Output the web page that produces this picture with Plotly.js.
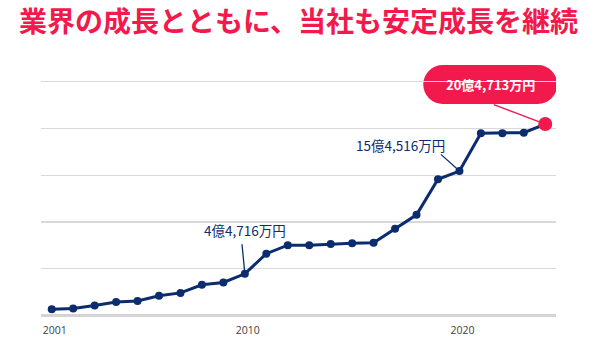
<!DOCTYPE html>
<html><head><meta charset="utf-8">
<script src="https://cdn.plot.ly/plotly-3.0.1.min.js"></script>
<style>html,body{margin:0;padding:0;background:#fff}#chart{width:596px;height:355px}</style>
</head><body><div id="chart"></div>
<script>
const years = [2001,2002,2003,2004,2005,2006,2007,2008,2009,2010,2011,2012,2013,2014,2015,2016,2017,2018,2019,2020,2021,2022,2023,2024];
const sales = [0.68,0.76,1.08,1.46,1.57,2.13,2.43,3.30,3.55,4.4716,6.62,7.53,7.53,7.65,7.74,7.78,9.29,10.77,14.57,15.4516,19.49,19.49,19.55,20.4713];
const tickYears = [2001,2010,2020];
const tickText = ['2001','2010','2020'];
const gridVals = [5,10,15,20,25];
const labelYears = [2010,2020];
const labelTexts = ['4億4,716万円','15億4,516万円'];
const latestText = '20億4,713万円';
const titleText = '業界の成長とともに、当社も安定成長を継続';

const NAVY = '#0b2c6d', RED = '#f2194c';
const last = years.length - 1;
const lastX = years[last], lastY = sales[last];
const idx = y => years.indexOf(y);

const trace = {
  x: years, y: sales, type: 'scatter', mode: 'lines+markers', opacity: 1,
  line: {color: NAVY, width: 3},
  marker: {color: years.map((_, i) => i === last ? RED : NAVY), size: years.map((_, i) => i === last ? 14 : 8),
    opacity: 1, line: {width: 0}},
  hoverinfo: 'skip'
};

const labelShift = [[0, 44], [-59, 26]];
const arrowOff = [[-3, -31], [-20, -18]];
const annotations = [];
labelYears.forEach((yr, k) => {
  annotations.push({x: yr, y: sales[idx(yr)], xref: 'x', yref: 'y', text: labelTexts[k], showarrow: false,
    xanchor: 'center', yanchor: 'middle', xshift: labelShift[k][0], yshift: labelShift[k][1],
    font: {family: 'Noto Sans CJK JP', size: 13.5, color: NAVY}});
  annotations.push({x: yr, y: sales[idx(yr)], xref: 'x', yref: 'y', text: '', showarrow: true, arrowhead: 0,
    arrowwidth: 1.3, arrowcolor: NAVY, ax: arrowOff[k][0], ay: arrowOff[k][1], standoff: 0});
});
annotations.push({x: lastX, y: lastY, xref: 'x', yref: 'y', text: '', showarrow: true, arrowhead: 0,
  arrowwidth: 1.4, arrowcolor: RED, ax: -53, ay: -20, standoff: 0});
annotations.push({x: lastX, y: lastY, xref: 'x', yref: 'y', text: '<b>' + latestText + '</b>', showarrow: false,
  xanchor: 'center', yanchor: 'middle', xshift: -55, yshift: 40,
  font: {family: 'Noto Sans CJK JP', size: 13, color: '#ffffff'}});

const pill = (type, x0, x1) => ({type: type, xref: 'x', yref: 'y', xsizemode: 'pixel', ysizemode: 'pixel',
  xanchor: lastX, yanchor: lastY, x0: x0, x1: x1, y0: 20, y1: 59, fillcolor: RED, opacity: 1, line: {width: 0}, layer: 'below'});
const shapes = [pill('circle', -122, -83), pill('rect', -102.5, -7.5), pill('circle', -27, 12)];

const layout = {
  width: 596, height: 355,
  margin: {l: 41, r: 40, t: 56, b: 37},
  paper_bgcolor: '#ffffff', plot_bgcolor: '#ffffff',
  showlegend: false,
  title: {text: '<b>' + titleText + '</b>', font: {family: 'Noto Sans CJK JP', size: 28, color: RED},
    x: 0.5, xanchor: 'center', xref: 'paper', y: 1 - 22.5/355, yref: 'container', yanchor: 'middle'},
  xaxis: {range: [2000.5, 2024.5], tickvals: tickYears, ticktext: tickText, showgrid: false, zeroline: false,
    showline: false, ticks: '', ticklabelshift: 3, ticklabelstandoff: 4,
    tickfont: {family: 'Open Sans', size: 10.5, color: '#404040'}, fixedrange: true},
  yaxis: {range: [-0.25, 27.74], tickvals: gridVals, showticklabels: false, showgrid: true, gridcolor: '#d9d9d9', gridwidth: 1.2,
    zeroline: true, zerolinecolor: '#d4d4d4', zerolinewidth: 2.5, showline: false, ticks: '', fixedrange: true},
  shapes: shapes,
  annotations: annotations
};
Plotly.newPlot('chart', [trace], layout, {displayModeBar: false, staticPlot: true});
</script></body></html>
